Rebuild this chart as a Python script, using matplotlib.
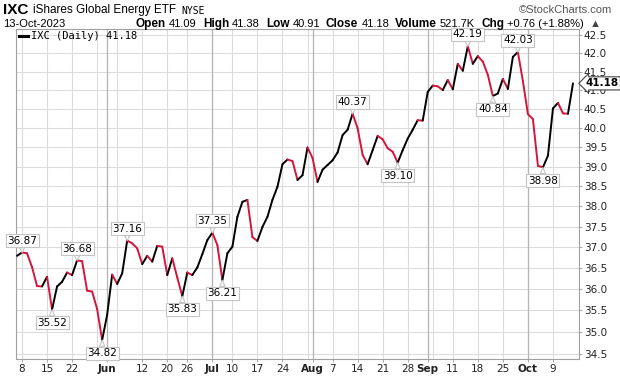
import numpy as np
import pandas as pd
import matplotlib
matplotlib.use("Agg")
import matplotlib.pyplot as plt
from matplotlib.collections import LineCollection
from matplotlib.lines import Line2D

# daily closes of IXC, 5-May-2023 .. 13-Oct-2023 (trading days only)
holidays = ["2023-05-29", "2023-06-19", "2023-07-04", "2023-09-04"]
closes = [36.79, 36.87, 36.85, 36.52, 36.07, 36.06, 36.29, 35.52, 36.06, 36.17,
          36.39, 36.33, 36.68, 36.66, 35.96, 35.94, 35.53, 34.82, 35.40, 36.34,
          36.12, 36.37, 37.16, 37.09, 36.97, 36.59, 36.79, 36.65, 37.03, 37.01,
          36.33, 36.73, 36.27, 35.83, 36.39, 36.33, 36.51, 36.83, 37.17, 37.35,
          37.05, 36.21, 36.85, 37.01, 37.74, 38.11, 38.16, 37.24, 37.15, 37.49,
          37.74, 38.16, 38.49, 39.06, 39.18, 39.14, 38.66, 38.78, 39.49, 39.22,
          38.61, 38.92, 39.04, 39.16, 39.36, 39.81, 39.95, 40.37, 39.99, 39.30,
          39.06, 39.42, 39.79, 39.70, 39.47, 39.38, 39.10, 39.42, 39.72, 39.95,
          40.20, 40.19, 40.95, 41.12, 41.10, 41.00, 41.27, 41.02, 41.71, 41.52,
          42.19, 41.71, 41.92, 41.77, 41.41, 40.84, 40.91, 41.30, 41.03, 41.90,
          42.03, 41.24, 40.36, 40.23, 39.02, 38.98, 39.28, 40.51, 40.66, 40.38,
          40.37, 41.18]
peaks = [1, 12, 22, 39, 67, 90, 100]
troughs = [7, 17, 33, 41, 76, 95, 105]
tick_dates = ["2023-05-08", "2023-05-15", "2023-05-22", "2023-06-01", "2023-06-12",
              "2023-06-20", "2023-06-26", "2023-07-03", "2023-07-10", "2023-07-17",
              "2023-07-24", "2023-08-01", "2023-08-07", "2023-08-14", "2023-08-21",
              "2023-08-28", "2023-09-01", "2023-09-11", "2023-09-18", "2023-09-25",
              "2023-10-02", "2023-10-09"]
tick_labels = ["8", "15", "22", "Jun", "12", "20", "26", "Jul", "10", "17", "24",
               "Aug", "7", "14", "21", "28", "Sep", "11", "18", "25", "Oct", "9"]
y_ticks = [34.5, 35.0, 35.5, 36.0, 36.5, 37.0, 37.5, 38.0, 38.5, 39.0, 39.5,
           40.0, 40.5, 41.0, 41.5, 42.0, 42.5]

dates = pd.bdate_range("2023-05-05", "2023-10-13")
dates = dates[~dates.isin(pd.to_datetime(holidays))]
x = np.arange(len(dates))
c = np.array(closes)

W, H = 620, 376
fig = plt.figure(figsize=(W / 100, H / 100), dpi=100)
ax = fig.add_axes([16 / W, 1 - 359 / H, (579 - 16) / W, (359 - 29) / H])
ax.set_yscale("log")
ax.set_ylim(34.39, 42.67)
ax.set_xlim(-0.2, 112.2)

# grid
for t in y_ticks:
    ax.axhline(t, color="#dcdcdc", lw=0.8, zorder=0)
week_idx = [i for i in range(1, len(dates))
            if dates[i].isocalendar()[1] != dates[i - 1].isocalendar()[1]]
month_idx = [i for i in range(1, len(dates)) if dates[i].month != dates[i - 1].month]
for i in week_idx:
    ax.axvline(x[i], color="#dcdcdc", lw=0.8, zorder=0)
for i in month_idx:
    ax.axvline(x[i], color="#b4b4b4", lw=0.9, zorder=0)

# price line, red when falling
pts = np.column_stack([x, c])
segs = np.stack([pts[:-1], pts[1:]], axis=1)
cols = ["#d6143c" if c[i + 1] < c[i] else "black" for i in range(len(c) - 1)]
ax.add_collection(LineCollection(segs, colors=cols, linewidths=1.4, zorder=3,
                                 capstyle="round", joinstyle="round"))

# value labels at swings
box = dict(boxstyle="square,pad=0.15", fc="white", ec="#c4c4c4", lw=0.8)
arrow = dict(arrowstyle="wedge,tail_width=0.5", fc="white", ec="#c4c4c4",
             lw=0.8, shrinkA=0, shrinkB=0)
for i in peaks:
    ax.annotate("%.2f" % c[i], (x[i], c[i]), xytext=(0, 8.5), textcoords="offset points",
                ha="center", va="center", fontsize=7.5, bbox=box, arrowprops=arrow, zorder=5)
for i in troughs:
    ax.annotate("%.2f" % c[i], (x[i], c[i]), xytext=(0, -9.5), textcoords="offset points",
                ha="center", va="center", fontsize=7.5, bbox=box, arrowprops=arrow, zorder=5)

# axes
ax.yaxis.tick_right()
ax.yaxis.set_minor_locator(matplotlib.ticker.NullLocator())
ax.set_yticks(y_ticks)
ax.set_yticklabels(["%.1f" % t for t in y_ticks])
tick_pos = [int(np.where(dates == pd.Timestamp(d))[0][0]) for d in tick_dates]
ax.set_xticks(tick_pos)
ax.set_xticklabels(tick_labels)
for lab in ax.get_xticklabels():
    if lab.get_text().isalpha():
        lab.set_fontweight("bold")
ax.tick_params(axis="both", labelsize=7.5, colors="#999999", labelcolor="#222222",
               length=2, width=0.6, pad=1.5)
for s in ax.spines.values():
    s.set_color("#a0a0a0")
    s.set_linewidth(0.8)

# last price tag
ax.text(1.012, c[-1], "%.2f" % c[-1], transform=ax.get_yaxis_transform(),
        ha="left", va="center", fontsize=7.5, fontweight="bold", clip_on=False,
        bbox=dict(boxstyle="larrow,pad=0.15", fc="white", ec="#444444", lw=0.8), zorder=6)

# legend
fig.add_artist(Line2D([19 / W, 28 / W], [1 - 36 / H] * 2, color="black", lw=2.2,
                      transform=fig.transFigure))
fig.text(31 / W, 1 - 36 / H, "IXC (Daily) %.2f" % c[-1], fontsize=7.5,
         family="DejaVu Sans Mono", va="center")

# header
hf = "Liberation Sans"
fig.text(3 / W, 1 - 10 / H, "IXC", fontsize=11, fontweight="bold", family=hf, va="center")
fig.text(33 / W, 1 - 10 / H, "iShares Global Energy ETF", fontsize=8.5, family=hf, va="center")
fig.text(181 / W, 1 - 10.5 / H, "NYSE", fontsize=7, family="DejaVu Sans Mono", va="center")
fig.text(612 / W, 1 - 10 / H, "\u00a9StockCharts.com", fontsize=8, family=hf,
         color="#555555", ha="right", va="center")
fig.text(3 / W, 1 - 24 / H, "13-Oct-2023", fontsize=8, family=hf, va="center")

pieces = [("Open", True), ("41.09", False), ("High", True), ("41.38", False),
          ("Low", True), ("40.91", False), ("Close", True), ("41.18", False),
          ("Volume", True), ("521.7K", False), ("Chg", True), ("+0.76 (+1.88%)", False),
          ("\u25b2", False)]
r = fig.canvas.get_renderer()
xp = 136
for k, (txt, bold) in enumerate(pieces):
    t = fig.text(xp / W, 1 - 24 / H, txt, fontsize=8.5 if bold else 8, family=hf,
                 fontweight="bold" if bold else "normal", va="center",
                 color="#444444" if txt == "\u25b2" else "black")
    w = t.get_window_extent(r).width
    xp += w + (3 if bold else 6)

fig.savefig("out.png", dpi=100)
